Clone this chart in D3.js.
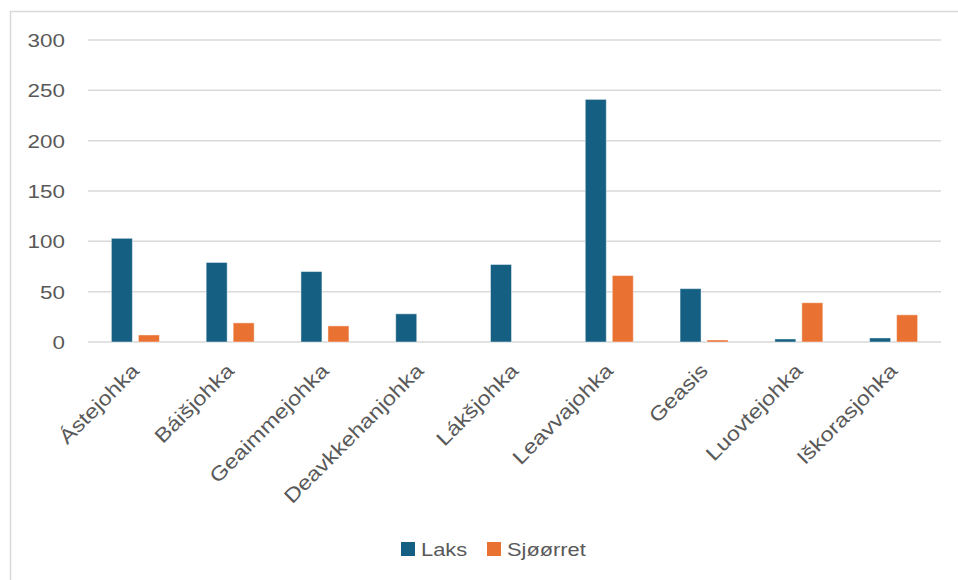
<!DOCTYPE html>
<html>
<head>
<meta charset="utf-8">
<script src="https://cdn.jsdelivr.net/npm/d3@7"></script>
<style>
  html, body { margin: 0; padding: 0; background: #fff; }
  svg { display: block; }
  text { font-family: "Liberation Sans", Arial, sans-serif; fill: #595959; }
</style>
</head>
<body>
<svg id="chart" width="958" height="580"></svg>
<script>
const categories = ["Ástejohka", "Báišjohka", "Geaimmejohka", "Deavkkehanjohka", "Lákšjohka", "Leavvajohka", "Geasis", "Luovtejohka", "Iškorasjohka"];
const laks = [103, 79, 70, 28, 77, 241, 53, 3, 4];
const sjoorret = [7, 19, 16, 0, 0, 66, 2, 39, 27];
const seriesNames = ["Laks", "Sjøørret"];
const seriesColors = ["#156082", "#E97132"];
const yTicks = [0, 50, 100, 150, 200, 250, 300];

const svg = d3.select("#chart");
const W = 958, H = 580;
const plot = { left: 88, right: 941, top: 40, bottom: 342 };
const SX = 1.18; // horizontal stretch to match wide text in reference

// frame
svg.append("rect").attr("x", 10.5).attr("y", 11.5).attr("width", W + 20).attr("height", H + 20)
  .attr("fill", "#fff").attr("stroke", "#d9d9d9").attr("stroke-width", 1.5);

const x = d3.scaleBand().domain(categories).range([plot.left, plot.right]).padding(0);
const y = d3.scaleLinear().domain([0, 300]).range([plot.bottom, plot.top]);

// gridlines
svg.append("g").selectAll("line").data(yTicks).join("line")
  .attr("x1", plot.left).attr("x2", plot.right)
  .attr("y1", d => y(d)).attr("y2", d => y(d))
  .attr("stroke", "#d9d9d9").attr("stroke-width", 1.5);

// y tick labels
svg.append("g").selectAll("text").data(yTicks).join("text")
  .attr("transform", d => `translate(65,${y(d) + 7}) scale(${SX},1)`)
  .attr("text-anchor", "end")
  .attr("font-size", 19)
  .text(d => d);

// bars
const barW = 21, gap = 6;
const data = categories.map((c, i) => ({ c, vals: [laks[i], sjoorret[i]] }));
const groups = svg.append("g").selectAll("g").data(data).join("g")
  .attr("transform", d => `translate(${x(d.c) + x.bandwidth() / 2 - (2 * barW + gap) / 2},0)`);
groups.selectAll("rect").data(d => d.vals.map((v, k) => ({ v, k })))
  .join("rect")
  .attr("x", d => d.k * (barW + gap))
  .attr("width", barW)
  .attr("y", d => y(d.v))
  .attr("height", d => y(0) - y(d.v))
  .attr("fill", d => seriesColors[d.k])
  .attr("stroke", "#ffffff").attr("stroke-opacity", 0.45).attr("stroke-width", 1);

// x labels rotated
svg.append("g").selectAll("text").data(categories).join("text")
  .attr("transform", d => `translate(${x(d) + x.bandwidth() / 2 + 5},372) rotate(-45) scale(${SX},1)`)
  .attr("text-anchor", "end")
  .attr("font-size", 20)
  .text(d => d);

// legend
const legend = [{ name: "Laks", sx: 401, tx: 421 }, { name: "Sjøørret", sx: 487, tx: 507 }];
legend.forEach((l, i) => {
  svg.append("rect").attr("x", l.sx).attr("y", 542).attr("width", 14).attr("height", 14).attr("fill", seriesColors[i]);
  svg.append("text").attr("transform", `translate(${l.tx},555.5) scale(${SX},1)`)
    .attr("font-size", 18.5).text(seriesNames[i]);
});
</script>
</body>
</html>
